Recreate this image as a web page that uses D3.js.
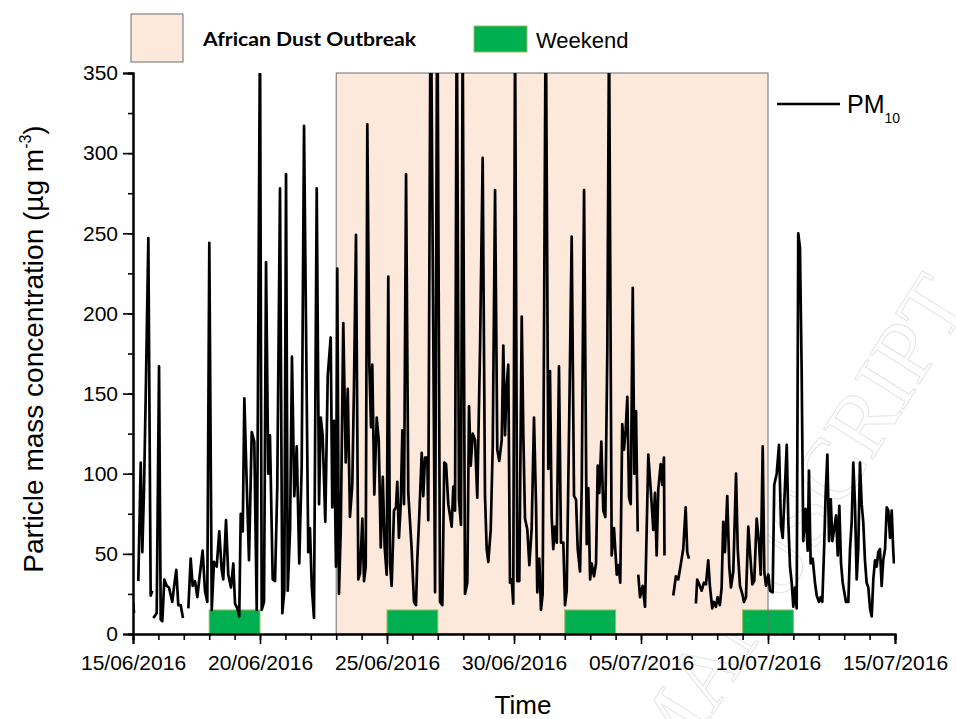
<!DOCTYPE html>
<html>
<head>
<meta charset="utf-8">
<script src="https://cdn.jsdelivr.net/npm/d3@7"></script>
<style>
  html, body { margin: 0; padding: 0; background: #fff; }
  svg { display: block; font-family: "Liberation Sans", Arial, sans-serif; }
</style>
</head>
<body>
<svg id="chart" width="956" height="719"></svg>
<script>
// ---------------- DATA ----------------
const startDate = "15/06/2016";
const xTickLabels = ["15/06/2016", "20/06/2016", "25/06/2016", "30/06/2016", "05/07/2016", "10/07/2016", "15/07/2016"];
const yTickLabels = [0, 50, 100, 150, 200, 250, 300, 350];
// hours since 15/06/2016 00:00
const hours = [0,1,3,5.0,7.3,8.8,10.4,12.3,14.5,16.7,18.2,18.7,19.2,22.4,24.6,26.2,27.7,29.6,31.9,34.0,37.1,38.7,40.9,42.8,45.1,47.2,50,52.3,54.5,56.4,58.6,60.8,62.6,65.8,68.0,70.2,72.1,74.4,76.5,79.1,81.5,83.8,85.3,87.9,90.0,92.6,94.8,96.4,98.6,100.4,101.8,103.7,105.2,107.4,109.6,112.2,114.6,116.9,120.0,121.6,123.8,125.7,127.8,129.4,132.0,134.2,136.3,138.9,141.1,143.0,144.6,146.2,148.4,150.2,152.4,154.7,157.1,159.4,161.6,165.6,167.2,168.9,171.0,173.6,175.8,177.4,179.2,181.7,184.0,186.8,188.3,189.9,191.8,193.0,194.6,196.3,198.7,201.0,202.9,205.0,207.2,208.8,210.7,212.9,214.5,216.7,218.3,219.9,221.4,223.3,224.9,226.1,228.0,230.3,232.2,234.1,236.0,237.8,239.7,241.2,242.8,244.4,246.6,248.5,249.7,251.3,253.0,254.5,256.1,258.0,260.1,263.3,265.5,267.4,268.6,270.5,272.8,274.3,275.9,278.1,279.0,281.3,285.4,287.5,290.1,292.3,294.1,295.8,297.9,299.5,301.1,302.7,304.3,305.9,308.0,309.9,311.5,313.7,315.9,317.5,319.1,321.0,323.2,325.3,327.9,330.4,332.6,334.2,335.7,338.0,339.9,342.1,344.2,346.1,348.4,349.9,351.5,353.1,354.6,356.2,357.8,359.3,361.0,363.1,365.0,367.3,368.8,370.4,372.6,374.5,376.7,378.9,380.8,382.0,383.9,385.5,387.1,390.0,392.4,394.0,395.6,397.1,398.7,400.4,402.5,404.4,406.6,408.2,409.8,412.3,414.5,416.7,418.6,420.2,422.4,424.0,426.2,428.7,430.2,431.9,433.4,435.6,437.5,439.1,440.6,442.5,444.4,446.3,448.2,449.8,452.3,454.5,457.1,458.9,460.4,462.3,463.9,465.5,467.1,468.7,470.3,472.2,473.7,475.3,476.9,477.2,477.4,479.1,481.6,483.8,486.9,489.2,491.6,493.2,494.8,496.3,498.6,500.1,501.7,502.2,506,510.5,513.0,515.2,517.5,519.9,522.2,523.7,525.3,528,531.9,533.1,535.0,537.3,539.5,541.4,543.5,545.1,547.3,548.9,550.8,552.4,554.5,556.2,557.7,559.3,561.5,563.4,565.0,567.2,569.8,571.4,573.5,575.7,577.3,579.2,581.4,583.0,585.2,587.0,589.3,591.5,593.1,595.0,596.5,598.1,600.3,601.9,604.4,605.9,608.2,610.4,612.3,613.9,616.1,617.7,619.2,620.8,622.4,623.9,625.5,627.1,628.6,630.2,631.8,633.3,635.6,637.5,638.7,640.3,642.2,644.4,646.0,648.2,649.8,651.3,652.9,654.5,656.1,657.7,659.3,660.8,662.4,664.3,665.9,667.4,669.0,670.6,672.1,673.7,675.9,677.5,679.1,680.6,682.2,683.8,685.3,686.9,688.5,690.0,691.6,693.2,694.8,696.4,698.0,699.5,701.1,702.7,704.2,705.8,707.4,708.9,710.6,712.2,713.7,715.3,716.9,718.4,719.1];
const pm10 = [20,13,null,33,107,51,90,159,247,24,27,null,10,13,167,9,8,34,30,29,20,29,40,18,18,10,null,16,47,30,33,23,34,52,27,20,244,15,45,42,64,40,34,71,37,29,44,19,16,11,75,64,147,95,46,126,120,15,380,15,20,232,100,124,34,33,91,278,13,27,287,27,65,173,86,117,44,105,317,51,66,30,10,278,81,135,124,70,161,185,79,133,42,228,25,65,194,107,153,73,93,154,249,34,38,72,33,42,318,168,129,168,87,135,121,54,98,54,37,223,44,30,77,79,95,60,81,127,81,287,88,53,20,18,46,74,113,86,110,110,71,420,26,420,20,18,107,106,81,74,67,92,77,400,84,68,380,25,32,142,105,125,121,85,178,297,86,53,45,65,117,277,115,108,121,180,124,155,168,32,34,19,380,33,33,198,125,72,65,43,66,135,81,26,47,15,25,400,103,164,73,53,67,57,167,57,57,18,27,140,248,86,84,53,39,92,277,56,91,34,44,36,44,105,88,120,77,73,178,380,49,66,37,43,32,131,115,127,148,85,81,216,100,139,64,null,37,23,30,17,112,90,65,88,49,90,106,93,110,49,null,24,36,34,43,53,79,51,47,null,19,34,31,27,32,31,46,30,16,20,17,23,18,29,70,51,86,42,29,39,100,53,30,25,20,23,67,51,31,33,72,57,37,117,39,30,37,27,26,93,100,118,67,60,93,118,70,42,32,17,29,16,250,241,164,58,78,52,102,44,47,32,24,20,23,20,51,88,112,58,84,58,65,74,49,80,44,32,26,20,20,53,70,107,81,34,53,107,81,70,46,32,29,16,11,34,46,42,51,53,30,46,53,79,77,60,77,51,44];
// African dust outbreak: 23/06/2016 00:00 -> 10/07/2016 00:00 (hours)
const dustPeriod = [192, 600];
// weekends (start hour, end hour)
const weekendStart = [72, 240, 408, 576];
const weekendEnd = [120, 288, 456, 624];
const weekendLevel = 15;

// ---------------- CHART ----------------
const svg = d3.select("#chart");
const x = d3.scaleLinear().domain([0, 720]).range([133, 895]);
const y = d3.scaleLinear().domain([0, 350]).range([634, 73]);

// faint watermark
svg.append("text")
  .attr("transform", "translate(972,300) rotate(-58)")
  .attr("text-anchor", "end")
  .attr("font-family", "Liberation Serif, serif")
  .attr("font-size", 88)
  .attr("fill", "none")
  .attr("stroke", "#e4e4e4")
  .attr("stroke-width", 1)
  .text("MANUSCRIPT");

// dust fill
svg.append("rect")
  .attr("x", x(dustPeriod[0])).attr("y", y(350))
  .attr("width", x(dustPeriod[1]) - x(dustPeriod[0]))
  .attr("height", y(0) - y(350))
  .attr("fill", "#fde9db");

// weekends
const wk = weekendStart.map((s, i) => ({s, e: weekendEnd[i]}));
svg.selectAll("rect.wk").data(wk).enter().append("rect")
  .attr("class", "wk")
  .attr("x", d => x(d.s)).attr("y", y(weekendLevel))
  .attr("width", d => x(d.e) - x(d.s))
  .attr("height", y(0) - y(weekendLevel))
  .attr("fill", "#00b050")
  .attr("stroke", "#9bbb59").attr("stroke-width", 1);

// dust border
svg.append("rect")
  .attr("x", x(dustPeriod[0])).attr("y", y(350))
  .attr("width", x(dustPeriod[1]) - x(dustPeriod[0]))
  .attr("height", y(0) - y(350))
  .attr("fill", "none")
  .attr("stroke", "#6e6e6e").attr("stroke-width", 1);

// clip
svg.append("clipPath").attr("id", "clip").append("rect")
  .attr("x", x(0)).attr("y", y(350)).attr("width", x(720) - x(0)).attr("height", y(0) - y(350) + 2);

const data = hours.map((h, i) => ({h, v: pm10[i]}));
const line = d3.line().defined(d => d.v !== null).x(d => x(d.h)).y(d => y(d.v));
svg.append("path").datum(data)
  .attr("clip-path", "url(#clip)")
  .attr("d", line)
  .attr("fill", "none").attr("stroke", "#000")
  .attr("stroke-width", 2.7).attr("stroke-linejoin", "round").attr("stroke-linecap", "butt");

// x axis
const gxMinor = svg.append("g").attr("transform", `translate(0,${y(0)})`)
  .call(d3.axisBottom(x).tickValues(d3.range(0, 721, 24)).tickSize(6).tickFormat(""));
const gx = svg.append("g").attr("transform", `translate(0,${y(0)})`)
  .call(d3.axisBottom(x).tickValues(d3.range(0, 721, 120)).tickSize(10).tickPadding(6)
    .tickFormat((d, i) => xTickLabels[i]));
[gxMinor, gx].forEach(g => {
  g.select(".domain").attr("stroke", "#000").attr("stroke-width", 2);
  g.selectAll(".tick line").attr("stroke", "#000").attr("stroke-width", 1.6);
});
gx.selectAll(".tick text").attr("font-size", 21).attr("fill", "#000")
  .attr("font-family", "Liberation Sans, Arial, sans-serif").attr("dy", "0.95em");

// y axis
const gyMinor = svg.append("g").attr("transform", `translate(${x(0)},0)`)
  .call(d3.axisLeft(y).tickValues(d3.range(0, 351, 25)).tickSize(5).tickFormat(""));
const gy = svg.append("g").attr("transform", `translate(${x(0)},0)`)
  .call(d3.axisLeft(y).tickValues(yTickLabels).tickSize(10).tickPadding(5));
[gyMinor, gy].forEach(g => {
  g.select(".domain").attr("stroke", "#000").attr("stroke-width", 2);
  g.selectAll(".tick line").attr("stroke", "#000").attr("stroke-width", 1.6);
});
gy.selectAll(".tick text").attr("font-size", 21).attr("fill", "#000")
  .attr("font-family", "Liberation Sans, Arial, sans-serif");

// axis titles
svg.append("text").attr("x", 523).attr("y", 714).attr("text-anchor", "middle")
  .attr("font-size", 26).text("Time");
const yl = svg.append("text").attr("transform", "translate(43,349) rotate(-90)")
  .attr("text-anchor", "middle").attr("font-size", 28);
yl.append("tspan").text("Particle mass concentration (\u00b5g m");
yl.append("tspan").attr("font-size", 16).attr("dy", -12).text("-3");
yl.append("tspan").attr("dy", 12).text(")");

// legends
svg.append("rect").attr("x", 131).attr("y", 14).attr("width", 52).attr("height", 48)
  .attr("fill", "#fde9db").attr("stroke", "#6e6e6e").attr("stroke-width", 1);
svg.append("text").attr("x", 203).attr("y", 46).attr("font-family", "Lato, 'Open Sans', sans-serif")
  .attr("font-weight", "bold").attr("font-size", 18)
  .attr("textLength", 213).attr("lengthAdjust", "spacingAndGlyphs")
  .text("African Dust Outbreak");
svg.append("rect").attr("x", 474).attr("y", 26).attr("width", 53).attr("height", 26)
  .attr("fill", "#00b050").attr("stroke", "#9bbb59").attr("stroke-width", 1);
svg.append("text").attr("x", 536).attr("y", 48).attr("font-size", 22).text("Weekend");

svg.append("line").attr("x1", 777).attr("x2", 840).attr("y1", 104).attr("y2", 104)
  .attr("stroke", "#000").attr("stroke-width", 2.6);
const pm = svg.append("text").attr("x", 847).attr("y", 113).attr("font-size", 25);
pm.append("tspan").text("PM");
pm.append("tspan").attr("font-size", 14).attr("dy", 10).text("10");
</script>
</body>
</html>
